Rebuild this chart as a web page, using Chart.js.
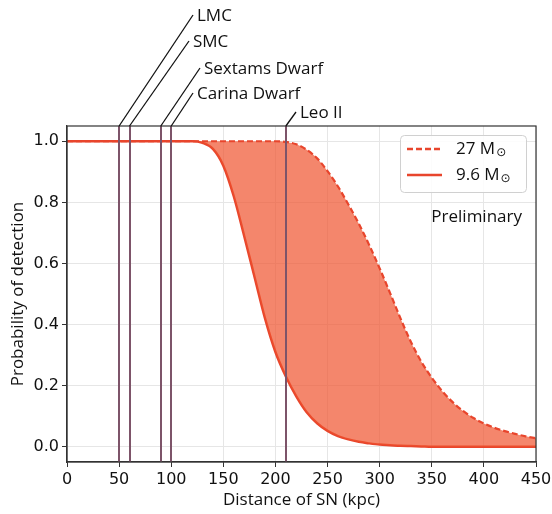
<!DOCTYPE html>
<html>
<head>
<meta charset="utf-8">
<script src="https://cdn.jsdelivr.net/npm/chart.js@4/dist/chart.umd.min.js"></script>
<style>
  html, body { margin: 0; padding: 0; background: #fff; }
</style>
</head>
<body>
<canvas id="myChart" width="552" height="514"></canvas>
<script>
// distance of the supernova (kpc)
const distance = [0, 10, 20, 30, 40, 50, 60, 70, 80, 90, 100, 110, 120, 130, 140, 150, 160, 170, 180, 190,
  200, 210, 220, 230, 240, 250, 260, 270, 280, 290, 300, 310, 320, 330, 340, 350, 360, 370, 380, 390,
  400, 410, 420, 430, 440, 450];
// probability of detection, 27 Msun progenitor
const prob27 = [1, 1, 1, 1, 1, 1, 1, 1, 1, 1, 1, 1, 1, 1, 1, 1, 1, 1, 1, 1,
  1, 0.998, 0.99, 0.972, 0.944, 0.902, 0.852, 0.793, 0.73, 0.66, 0.584, 0.503, 0.42, 0.343, 0.278, 0.226, 0.182, 0.146, 0.117, 0.094,
  0.076, 0.062, 0.051, 0.042, 0.034, 0.028];
// probability of detection, 9.6 Msun progenitor
const prob96 = [1, 1, 1, 1, 1, 1, 1, 1, 1, 1, 1, 1, 1, 0.995, 0.975, 0.92, 0.82, 0.69, 0.555, 0.42,
  0.31, 0.23, 0.165, 0.113, 0.077, 0.052, 0.035, 0.024, 0.016, 0.011, 0.007, 0.005, 0.003, 0.002, 0.001, 0, 0, 0, 0, 0,
  0, 0, 0, 0, 0, 0];

const galaxyNames = ['LMC', 'SMC', 'Sextams Dwarf', 'Carina Dwarf', 'Leo II'];
const galaxyDist = [50, 60, 90, 100, 210];

const xTicks = [0, 50, 100, 150, 200, 250, 300, 350, 400, 450];
const yTicks = [0, 0.2, 0.4, 0.6, 0.8, 1.0];

const lineColor = '#e8452c';
const fillColor = 'rgba(240, 82, 45, 0.7)';
const galaxyColor = '#7d5469';
const textFont = '"Open Sans", sans-serif';

// end points of the leader lines (canvas px), one per galaxy
const leaderEnds = [[193, 15], [189, 41], [200, 68], [193, 93], [296, 112]];

const ctx = document.getElementById('myChart').getContext('2d');

const extras = {
  id: 'extras',
  afterDatasetsDraw(chart) {
    const c = chart.ctx;
    const area = chart.chartArea;
    const xs = chart.scales.x;
    c.save();
    // galaxy distances
    c.strokeStyle = galaxyColor;
    c.lineWidth = 2;
    galaxyDist.forEach(d => {
      const px = Math.round(xs.getPixelForValue(d));
      c.beginPath();
      c.moveTo(px, area.top);
      c.lineTo(px, area.bottom);
      c.stroke();
    });
    // box
    c.strokeStyle = '#333';
    c.lineWidth = 1.2;
    c.strokeRect(area.left, area.top, area.right - area.left, area.bottom - area.top);

    // legend
    const bx = area.right - 136, by = area.top + 9, bw = 126, bh = 57;
    c.fillStyle = 'rgba(255,255,255,0.85)';
    c.strokeStyle = '#d0d0d0';
    c.lineWidth = 1;
    c.beginPath();
    c.roundRect(bx + 0.5, by + 0.5, bw, bh, 4);
    c.fill();
    c.stroke();
    chart.data.datasets.forEach((ds, i) => {
      const y = by + 14 + i * 26;
      c.strokeStyle = ds.borderColor;
      c.lineWidth = 2.5;
      c.setLineDash(ds.borderDash || []);
      c.beginPath();
      c.moveTo(bx + 7, y);
      c.lineTo(bx + 42, y);
      c.stroke();
      c.setLineDash([]);
      const label = ds.label;
      const main = label.slice(0, -1);
      c.fillStyle = '#111';
      c.textBaseline = 'middle';
      c.textAlign = 'left';
      c.font = '17px ' + textFont;
      c.fillText(main, bx + 56, y);
      const w = c.measureText(main).width;
      c.font = '12px DejaVu Sans';
      c.fillText(label.slice(-1), bx + 57 + w, y + 4);
    });

    // preliminary
    c.font = '17px ' + textFont;
    c.fillStyle = '#111';
    c.textAlign = 'right';
    c.textBaseline = 'alphabetic';
    c.fillText('Preliminary', area.right - 14, area.top + 96);

    // galaxy names with leader lines
    c.strokeStyle = '#111';
    c.lineWidth = 1.3;
    c.textAlign = 'left';
    galaxyNames.forEach((name, i) => {
      const px = xs.getPixelForValue(galaxyDist[i]);
      const [ex, ey] = leaderEnds[i];
      c.beginPath();
      c.moveTo(px, area.top);
      c.lineTo(ex, ey);
      c.stroke();
      c.fillText(name, ex + 4, ey + 6);
    });
    c.restore();
  }
};

new Chart(ctx, {
  type: 'line',
  data: {
    datasets: [{
      label: '27 M\u2299',
      data: distance.map((d, i) => ({ x: d, y: prob27[i] })),
      borderColor: lineColor,
      borderWidth: 2.2,
      borderDash: [6, 3],
      backgroundColor: fillColor,
      fill: '+1',
      pointRadius: 0,
      cubicInterpolationMode: 'monotone'
    }, {
      label: '9.6 M\u2299',
      data: distance.map((d, i) => ({ x: d, y: prob96[i] })),
      borderColor: lineColor,
      borderWidth: 2.5,
      fill: false,
      pointRadius: 0,
      cubicInterpolationMode: 'monotone'
    }]
  },
  options: {
    responsive: false,
    animation: false,
    layout: { padding: { top: 126, right: 16, left: 0, bottom: 0 } },
    plugins: {
      legend: { display: false },
      tooltip: { enabled: false }
    },
    scales: {
      x: {
        type: 'linear',
        min: 0,
        max: 450,
        afterFit(scale) {
          scale.height = 52;
          scale.paddingLeft = 0;
          scale.paddingRight = 0;
        },
        afterBuildTicks(scale) { scale.ticks = xTicks.map(v => ({ value: v })); },
        grid: { color: '#e6e6e6', tickColor: '#333', tickLength: 5 },
        border: { color: '#333', width: 1.2 },
        ticks: { color: '#111', padding: 3, maxRotation: 0, font: { family: 'DejaVu Sans', size: 16 } },
        title: {
          display: true,
          text: 'Distance of SN (kpc)',
          color: '#111',
          font: { family: textFont, size: 17 },
          padding: { top: 0, bottom: 4 }
        }
      },
      y: {
        type: 'linear',
        min: -0.05,
        max: 1.05,
        afterFit(scale) {
          scale.width = 67;
          scale.paddingTop = 0;
          scale.paddingBottom = 0;
        },
        afterBuildTicks(scale) { scale.ticks = yTicks.map(v => ({ value: v })); },
        grid: { color: '#e6e6e6', tickColor: '#333', tickLength: 5 },
        border: { color: '#333', width: 1.2 },
        ticks: {
          color: '#111',
          padding: 3,
          font: { family: 'DejaVu Sans', size: 16 },
          callback: v => v.toFixed(1)
        },
        title: {
          display: true,
          text: 'Probability of detection',
          color: '#111',
          font: { family: textFont, size: 17 },
          padding: { top: 8, bottom: 0 }
        }
      }
    }
  },
  plugins: [extras]
});
</script>
</body>
</html>
